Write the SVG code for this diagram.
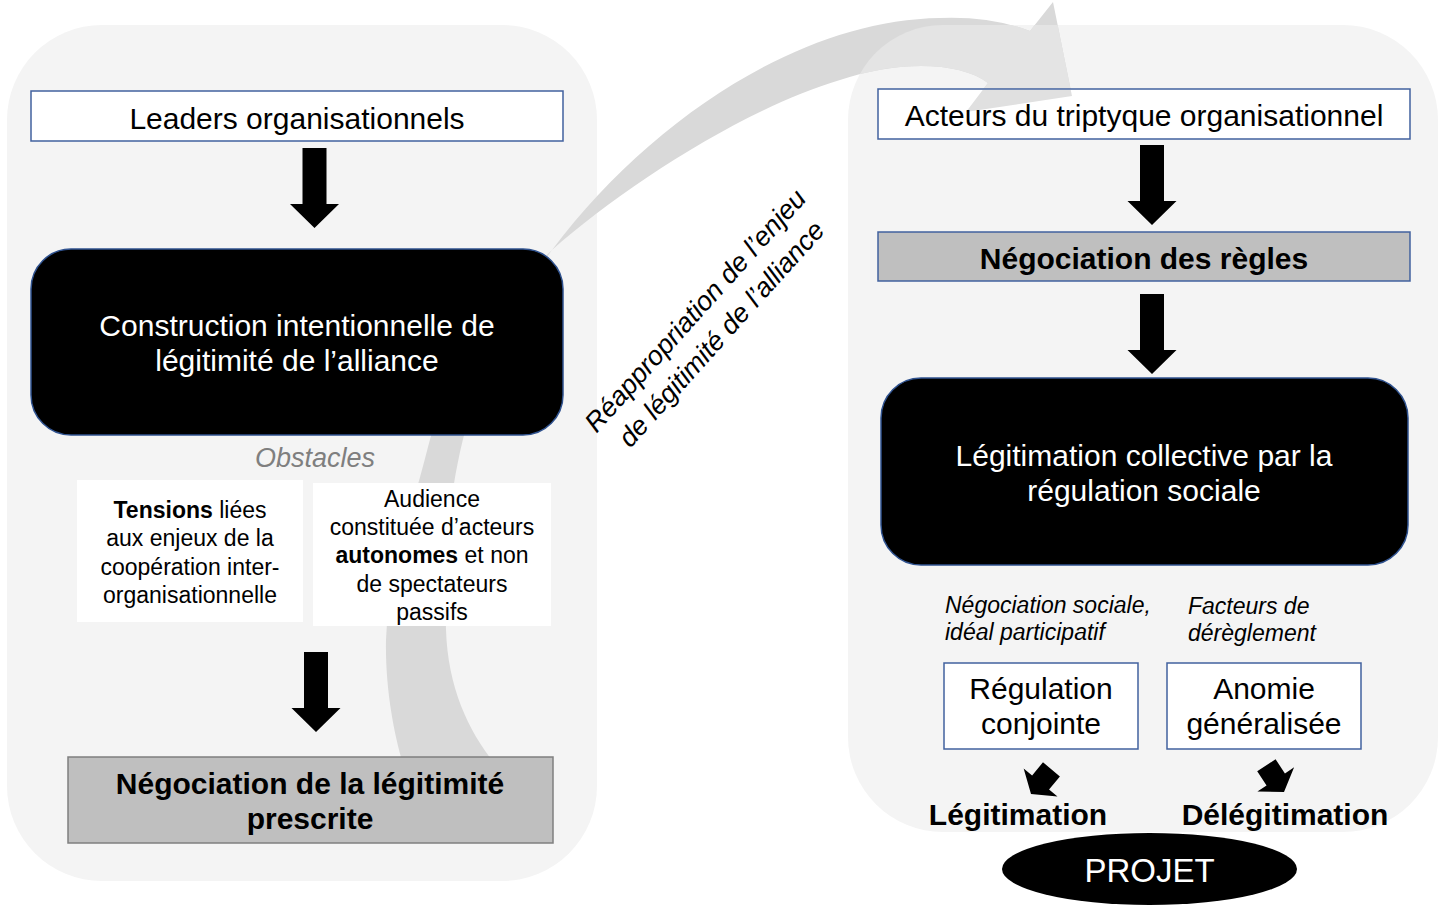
<svg xmlns="http://www.w3.org/2000/svg" width="1441" height="906" viewBox="0 0 1441 906">
<style>
text{font-family:"Liberation Sans",Arial,Helvetica,sans-serif;fill:#000}
.c{text-anchor:middle}
.s30{font-size:30px}
.s23{font-size:23px}
.w{fill:#fff}
.b{font-weight:bold}
.it{font-style:italic}
.panel{fill:#f4f4f4}
.blue{fill:#fff;stroke:#41619e;stroke-width:1.5}
.blk{fill:#000;stroke:#2f528f;stroke-width:1.5}
.gryg{fill:#bfbfbf;stroke:#7f7f7f;stroke-width:1.5}
.gryb{fill:#bfbfbf;stroke:#41619e;stroke-width:1.5}
.arr{fill:#000}
</style>
<defs>
<path id="band" d="M552,250 C650,120 800,20 940,18 Q990,16 1030,31 L1053,2 L1072,96 L966,112 L988,83 C960,62 900,60 840,80 C740,110 620,190 552,250 Z M552,250 C500,300 445,380 428,447 C412,510 388,580 386,640 C385,690 395,740 405,770 L500,770 C470,735 448,690 446,630 C442,520 455,380 552,250 Z"/>
<clipPath id="clipRP"><rect x="848" y="25" width="590" height="807" rx="95" ry="95"/></clipPath>
<clipPath id="clipAct"><rect x="879" y="90" width="530" height="48"/></clipPath>
<polygon id="smallArrow" points="-11,-32 11,-32 11,-15 22,-15 0,0 -22,-15 -11,-15"/>
</defs>

<g id="panels">
<rect id="panel-left" class="panel" x="7" y="25" width="590" height="856" rx="95" ry="95"/>
<rect id="panel-right" class="panel" x="848" y="25" width="590" height="807" rx="95" ry="95"/>
</g>

<g id="connectors">
<use href="#band" fill="#d9d9d9"/>
<use href="#band" fill="#e4e4e4" clip-path="url(#clipRP)"/>
<path class="arr" d="M302.5,148 h24 v56 h12.5 l-24.5,24 l-24.5,-24 h12.5 z"/>
<path class="arr" d="M304,652 h24 v56 h12.5 l-24.5,24 l-24.5,-24 h12.5 z"/>
<path class="arr" d="M1140,145 h24 v56 h12.5 l-24.5,24 l-24.5,-24 h12.5 z"/>
<path class="arr" d="M1140,294 h24 v56 h12.5 l-24.5,24 l-24.5,-24 h12.5 z"/>
<use href="#smallArrow" class="arr" transform="translate(1031,794) rotate(39.7)"/>
<use href="#smallArrow" class="arr" transform="translate(1284,792) rotate(-33.4)"/>
<g id="label-reappropriation" transform="translate(708,322) rotate(-48)">
<text class="c it" font-size="27" x="0" y="-8">Réappropriation de l’enjeu</text>
<text class="c it" font-size="27" x="0" y="27">de légitimité de l’alliance</text>
</g>
</g>

<g id="node-leaders">
<rect class="blue" x="31" y="91" width="532" height="50"/>
<text class="c s30" x="297" y="129">Leaders organisationnels</text>
</g>

<g id="node-construction">
<rect class="blk" x="31" y="249" width="532" height="186" rx="40" ry="40"/>
<text class="c s30 w" x="297" y="336">Construction intentionnelle de</text>
<text class="c s30 w" x="297" y="371">légitimité de l’alliance</text>
</g>

<g id="node-obstacles">
<text class="c it" font-size="27" x="315" y="467" style="fill:#7f7f7f">Obstacles</text>
</g>

<g id="node-tensions">
<rect fill="#fff" x="77" y="480" width="226" height="142"/>
<text class="c s23" x="190" y="518"><tspan class="b">Tensions</tspan> liées</text>
<text class="c s23" x="190" y="546">aux enjeux de la</text>
<text class="c s23" x="190" y="575">coopération inter-</text>
<text class="c s23" x="190" y="603">organisationnelle</text>
</g>

<g id="node-audience">
<rect fill="#fff" x="313" y="483" width="238" height="143"/>
<text class="c s23" x="432" y="507">Audience</text>
<text class="c s23" x="432" y="535">constituée d’acteurs</text>
<text class="c s23" x="432" y="563"><tspan class="b">autonomes</tspan> et non</text>
<text class="c s23" x="432" y="592">de spectateurs</text>
<text class="c s23" x="432" y="620">passifs</text>
</g>

<g id="node-negociation-legitimite">
<rect class="gryg" x="68" y="757" width="485" height="86"/>
<text class="c s30 b" x="310" y="794">Négociation de la légitimité</text>
<text class="c s30 b" x="310" y="829">prescrite</text>
</g>

<g id="node-acteurs">
<rect class="blue" x="878" y="89" width="532" height="50"/>
<use href="#band" fill="#e0e0e0" clip-path="url(#clipAct)"/>
<text class="c s30" x="1144" y="126">Acteurs du triptyque organisationnel</text>
</g>

<g id="node-negociation-regles">
<rect class="gryb" x="878" y="232" width="532" height="49"/>
<text class="c s30 b" x="1144" y="269">Négociation des règles</text>
</g>

<g id="node-legitimation-collective">
<rect class="blk" x="881" y="378" width="527" height="187" rx="40" ry="40"/>
<text class="c s30 w" x="1144" y="466">Légitimation collective par la</text>
<text class="c s30 w" x="1144" y="501">régulation sociale</text>
</g>

<g id="label-negociation-sociale">
<text class="s23 it" x="945" y="613">Négociation sociale,</text>
<text class="s23 it" x="945" y="640">idéal participatif</text>
</g>

<g id="label-facteurs">
<text class="s23 it" x="1188" y="614">Facteurs de</text>
<text class="s23 it" x="1188" y="641">dérèglement</text>
</g>

<g id="node-regulation">
<rect class="blue" x="944" y="663" width="194" height="86"/>
<text class="c s30" x="1041" y="699">Régulation</text>
<text class="c s30" x="1041" y="734">conjointe</text>
</g>

<g id="node-anomie">
<rect class="blue" x="1167" y="663" width="194" height="86"/>
<text class="c s30" x="1264" y="699">Anomie</text>
<text class="c s30" x="1264" y="734">généralisée</text>
</g>

<g id="node-legitimation">
<text class="c s30 b" x="1018" y="825">Légitimation</text>
</g>

<g id="node-delegitimation">
<text class="c s30 b" x="1285" y="825">Délégitimation</text>
</g>

<g id="node-projet">
<ellipse cx="1149.5" cy="869" rx="147.5" ry="36" fill="#000"/>
<text class="c w" font-size="33" x="1149.5" y="882">PROJET</text>
</g>
</svg>
